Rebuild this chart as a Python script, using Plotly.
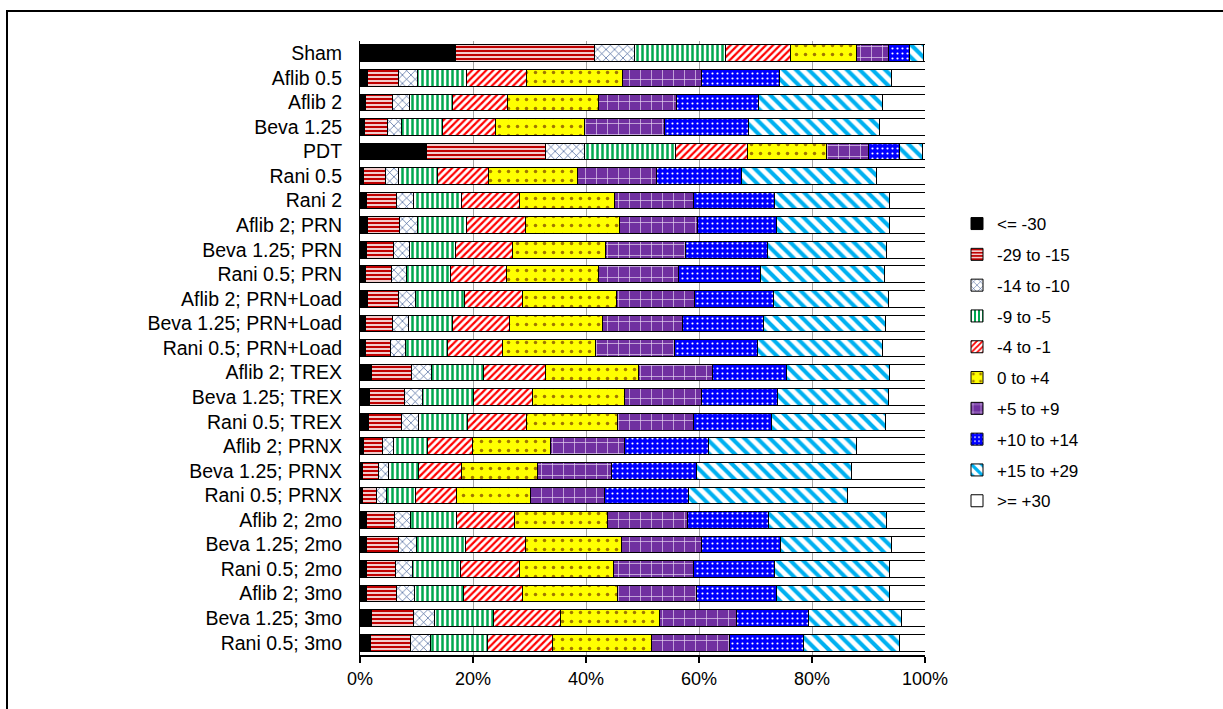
import plotly.graph_objects as go

categories = [
    "Sham", "Aflib 0.5", "Aflib 2", "Beva 1.25", "PDT", "Rani 0.5", "Rani 2",
    "Aflib 2; PRN", "Beva 1.25; PRN", "Rani 0.5; PRN",
    "Aflib 2; PRN+Load", "Beva 1.25; PRN+Load", "Rani 0.5; PRN+Load",
    "Aflib 2; TREX", "Beva 1.25; TREX", "Rani 0.5; TREX",
    "Aflib 2; PRNX", "Beva 1.25; PRNX", "Rani 0.5; PRNX",
    "Aflib 2; 2mo", "Beva 1.25; 2mo", "Rani 0.5; 2mo",
    "Aflib 2; 3mo", "Beva 1.25; 3mo", "Rani 0.5; 3mo",
]

series_names = ["<= -30", "-29 to -15", "-14 to -10", "-9 to -5", "-4 to -1",
                "0 to +4", "+5 to +9", "+10 to +14", "+15 to +29", ">= +30"]

le_m30 = [16.9, 1.4, 1.0, 0.8, 11.7, 0.7, 1.2, 1.4, 1.1, 1.0, 1.3, 1.0, 0.9,
          2.1, 1.7, 1.5, 0.7, 0.4, 0.4, 1.1, 1.2, 1.2, 1.2, 2.0, 1.8]
m29_m15 = [24.6, 5.5, 4.7, 4.0, 21.2, 3.8, 5.2, 5.6, 4.9, 4.5, 5.5, 4.7, 4.5,
           7.0, 6.1, 5.8, 3.3, 2.8, 2.6, 5.0, 5.6, 5.1, 5.3, 7.4, 7.1]
m14_m10 = [7.1, 3.2, 3.0, 2.6, 6.8, 2.3, 3.0, 3.2, 2.7, 2.8, 3.1, 2.9, 2.6,
           3.5, 3.2, 3.0, 2.0, 1.8, 1.7, 2.9, 3.2, 3.0, 3.1, 3.8, 3.6]
m9_m5 = [16.1, 8.7, 7.6, 7.2, 16.1, 6.9, 8.5, 8.6, 8.2, 7.8, 8.6, 7.8, 7.5,
         9.3, 9.1, 8.7, 6.0, 5.3, 5.1, 8.1, 8.6, 8.5, 8.7, 10.4, 10.0]
m4_m1 = [11.5, 10.7, 9.8, 9.3, 12.8, 9.0, 10.4, 10.5, 10.1, 9.8, 10.2, 10.0, 9.8,
         11.0, 10.5, 10.4, 7.9, 7.6, 7.2, 10.2, 10.7, 10.4, 10.4, 11.8, 11.6]
z_p4 = [11.7, 16.9, 16.1, 15.8, 13.9, 15.8, 16.7, 16.6, 16.5, 16.3, 16.7, 16.5, 16.3,
        16.4, 16.3, 16.2, 13.9, 13.5, 13.2, 16.5, 17.0, 16.6, 16.9, 17.6, 17.5]
p5_p9 = [5.6, 14.0, 13.9, 14.2, 7.5, 14.0, 14.0, 13.9, 14.1, 14.1, 13.8, 14.1, 14.1,
         13.1, 13.5, 13.5, 13.1, 13.1, 13.0, 14.1, 14.1, 14.2, 14.0, 13.7, 13.8]
p10_p14 = [3.7, 13.9, 14.5, 14.9, 5.5, 15.1, 14.3, 13.9, 14.6, 14.6, 14.0, 14.5, 14.7,
           13.0, 13.5, 13.7, 14.7, 15.1, 15.0, 14.4, 14.0, 14.3, 14.1, 12.7, 13.1]
p15_p29 = [2.5, 19.7, 21.9, 23.1, 4.1, 23.9, 20.4, 20.0, 21.0, 21.9, 20.3, 21.5, 22.1,
           18.4, 19.6, 20.2, 26.2, 27.4, 28.1, 20.9, 19.7, 20.4, 20.1, 16.5, 17.0]
ge_p30 = [0.3, 6.0, 7.5, 8.1, 0.4, 8.5, 6.3, 6.3, 6.8, 7.2, 6.5, 7.0, 7.5,
          6.2, 6.5, 7.0, 12.2, 13.0, 13.7, 6.8, 5.9, 6.3, 6.2, 4.1, 4.5]

all_series = [le_m30, m29_m15, m14_m10, m9_m5, m4_m1, z_p4, p5_p9, p10_p14, p15_p29, ge_p30]

# (background colour, pattern shape, pattern colour, size, solidity)
styles = [
    ("#000000", "", "#000000", 8, 0.3),
    ("#FFFFFF", "-", "#C00000", 4, 0.6),
    ("#FFFFFF", "x", "#2F4F8F", 6, 0.2),
    ("#FFFFFF", "|", "#00A850", 5, 0.5),
    ("#FFFFFF", "/", "#FF0000", 5, 0.45),
    ("#FFFF00", ".", "#A07800", 9, 0.12),
    ("#7030A0", "+", "#E6D6F2", 11, 0.12),
    ("#0000FF", ".", "#FFFFFF", 5, 0.15),
    ("#FFFFFF", "\\", "#00B0F0", 9, 0.45),
    ("#FFFFFF", "", "#FFFFFF", 8, 0.3),
]

FONT = "Liberation Sans, Arial, sans-serif"

fig = go.Figure()
for name, vals, (bg, shape, fg, size, sol) in zip(series_names, all_series, styles):
    marker = dict(color=bg, line=dict(color="#000000", width=1))
    if shape:
        marker["pattern"] = dict(shape=shape, fgcolor=fg, bgcolor=bg, size=size,
                                 solidity=sol, fillmode="replace")
    fig.add_trace(go.Bar(
        y=categories, x=vals, name=name, orientation="h",
        marker=marker, legendgroup=name,
    ))

W, H = 1223, 709
L, R, T, B = 360, 298, 41, 54
pw, ph = W - L - R, H - T - B

fig.update_layout(
    width=W, height=H,
    margin=dict(l=L, r=R, t=T, b=B, pad=0),
    barmode="stack", bargap=0.32,
    paper_bgcolor="white", plot_bgcolor="white",
    font=dict(family=FONT, color="#000000"),
    showlegend=True,
    legend=dict(
        x=(957 - L) / pw, xanchor="left",
        y=(H - B - 206) / ph, yanchor="top",
        traceorder="grouped", tracegroupgap=5.7,
        font=dict(size=17, family=FONT),
        bgcolor="rgba(0,0,0,0)",
    ),
    xaxis=dict(
        range=[0, 100], dtick=20, ticksuffix="%",
        showgrid=True, gridcolor="#A6A6A6", gridwidth=1,
        showline=True, linecolor="#000000", linewidth=2,
        ticks="outside", ticklen=6, tickwidth=2, tickcolor="#000000",
        tickfont=dict(size=18, family=FONT), zeroline=False,
    ),
    yaxis=dict(
        autorange="reversed", categoryorder="array", categoryarray=categories,
        showline=True, linecolor="#000000", linewidth=1,
        ticks="", ticklabelstandoff=13,
        tickfont=dict(size=19.5, family=FONT), showgrid=False,
    ),
    shapes=[dict(
        type="rect", xref="paper", yref="paper",
        x0=(7 - L) / pw, x1=(1260 - L) / pw,
        y0=-(740 - (H - B)) / ph, y1=(H - B - 11) / ph,
        line=dict(color="#000000", width=2), fillcolor="rgba(0,0,0,0)",
        layer="above",
    )],
)

fig.write_html("out.html")
